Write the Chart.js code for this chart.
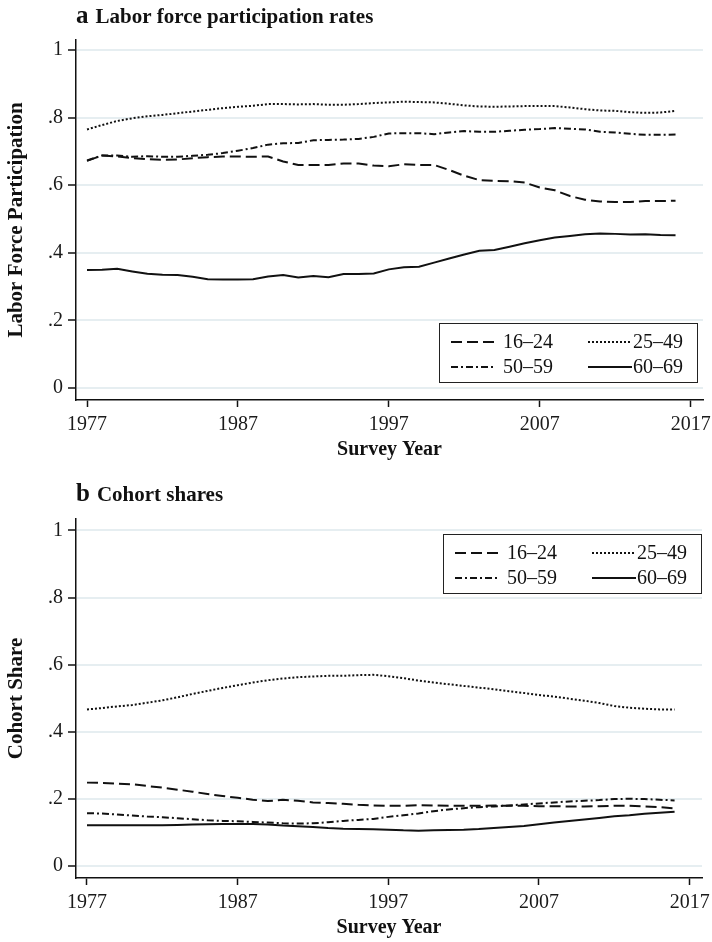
<!DOCTYPE html>
<html>
<head>
<meta charset="utf-8">
<script src="https://cdn.jsdelivr.net/npm/chart.js@4.4.1/dist/chart.umd.min.js"></script>
<style>
  body { margin: 0; background: #fff; width: 712px; height: 942px; position: relative; overflow: hidden; }
  canvas { position: absolute; left: 0; }
</style>
</head>
<body>
<canvas id="chartA" width="712" height="470" style="top:0"></canvas>
<canvas id="chartB" width="712" height="472" style="top:470px"></canvas>
<script>
// Survey years
const years = [1977,1978,1979,1980,1981,1982,1983,1984,1985,1986,1987,1988,1989,1990,1991,1992,1993,1994,1995,1996,
               1997,1998,1999,2000,2001,2002,2003,2004,2005,2006,2007,2008,2009,2010,2011,2012,2013,2014,2015,2016];
const cohorts = ['16–24', '25–49', '50–59', '60–69'];
const xTicks = [1977, 1987, 1997, 2007, 2017];
const yTicks = [0, 0.2, 0.4, 0.6, 0.8, 1];

// a: labor force participation rates
const lfp16_24 = [.672,.688,.685,.680,.677,.675,.676,.680,.683,.685,.685,.684,.685,.670,.660,.660,.660,.664,.664,.658,
                  .656,.662,.660,.660,.645,.628,.615,.613,.612,.608,.593,.585,.568,.557,.552,.550,.550,.553,.553,.554];
const lfp25_49 = [.765,.778,.790,.798,.804,.808,.813,.818,.823,.828,.832,.835,.840,.840,.839,.840,.838,.838,.840,.843,
                  .845,.847,.846,.845,.841,.836,.833,.832,.833,.834,.834,.834,.830,.825,.821,.820,.816,.814,.815,.820];
const lfp50_59 = [.673,.688,.688,.684,.686,.684,.684,.687,.690,.695,.702,.710,.720,.724,.725,.733,.734,.735,.737,.743,
                  .753,.754,.754,.751,.756,.760,.758,.758,.761,.764,.766,.769,.767,.765,.758,.756,.752,.749,.749,.750];
const lfp60_69 = [.349,.350,.353,.345,.338,.335,.334,.329,.322,.321,.321,.322,.330,.334,.327,.331,.328,.337,.337,.339,
                  .351,.357,.359,.371,.383,.395,.406,.408,.418,.428,.437,.445,.450,.455,.457,.456,.454,.455,.453,.452];

// b: cohort shares
const share16_24 = [.249,.248,.246,.244,.239,.234,.228,.222,.215,.209,.204,.198,.194,.198,.195,.190,.188,.186,.183,.181,
                    .180,.180,.182,.181,.180,.180,.180,.181,.180,.180,.179,.179,.178,.178,.179,.180,.180,.178,.176,.172];
const share25_49 = [.467,.471,.476,.480,.487,.494,.503,.513,.522,.531,.539,.547,.554,.559,.563,.565,.567,.567,.569,.570,
                    .566,.560,.553,.547,.542,.537,.532,.527,.521,.516,.510,.505,.499,.493,.486,.477,.472,.469,.467,.467];
const share50_59 = [.158,.157,.154,.151,.148,.146,.143,.140,.137,.135,.134,.132,.130,.128,.127,.128,.131,.135,.138,.141,
                    .147,.152,.157,.164,.169,.173,.176,.178,.181,.184,.187,.190,.193,.195,.197,.200,.201,.200,.198,.196];
const share60_69 = [.122,.122,.122,.122,.122,.122,.123,.124,.125,.126,.126,.126,.124,.121,.119,.117,.114,.112,.111,.110,
                    .109,.107,.106,.107,.108,.109,.111,.114,.117,.120,.125,.130,.135,.139,.144,.149,.152,.156,.159,.162];

const SERIF = '"Liberation Serif", "Times New Roman", serif';
Chart.defaults.font.family = SERIF;
Chart.defaults.color = '#1a1a1a';

const dashes = [[11, 5], [2, 2], [7, 3, 2, 3], []];

function makeDatasets(series) {
  return series.map((vals, i) => ({
    label: cohorts[i],
    data: years.map((yr, j) => ({ x: yr, y: vals[j] })),
    borderColor: '#111',
    borderWidth: 2,
    borderDash: dashes[i],
    pointRadius: 0,
    fill: false,
    tension: 0
  }));
}

// panel heading: bold letter + bold title above the plot
const panelTitle = {
  id: 'panelTitle',
  afterDraw(chart, args, o) {
    const ctx = chart.ctx;
    ctx.save();
    ctx.fillStyle = '#111';
    ctx.textBaseline = 'alphabetic';
    ctx.font = 'bold 25px ' + SERIF;
    ctx.fillText(o.letter, 76, o.y);
    const w = ctx.measureText(o.letter).width;
    ctx.font = 'bold 21px ' + SERIF;
    ctx.fillText(o.text, 76 + w + 7, o.y);
    ctx.restore();
  }
};

// boxed two-column legend inside the plot region
const boxLegend = {
  id: 'boxLegend',
  afterDraw(chart, args, o) {
    const ctx = chart.ctx, area = chart.chartArea;
    const w = 258, h = 59;
    const x = area.right - o.right - w;
    const y = o.top != null ? area.top + o.top : area.bottom - o.bottom - h;
    ctx.save();
    ctx.fillStyle = '#fff';
    ctx.fillRect(x, y, w, h);
    ctx.strokeStyle = '#222';
    ctx.lineWidth = 1;
    ctx.strokeRect(Math.round(x) + 0.5, Math.round(y) + 0.5, w, h);
    ctx.font = '20px ' + SERIF;
    ctx.textBaseline = 'middle';
    chart.data.datasets.forEach((ds, i) => {
      const col = i % 2, row = Math.floor(i / 2);
      const cy = y + 19 + row * 25;
      const sx = x + (col ? 149 : 12);
      ctx.beginPath();
      ctx.setLineDash(ds.borderDash);
      ctx.lineWidth = ds.borderWidth;
      ctx.strokeStyle = ds.borderColor;
      ctx.moveTo(sx, cy);
      ctx.lineTo(sx + 44, cy);
      ctx.stroke();
      ctx.setLineDash([]);
      ctx.fillStyle = '#111';
      ctx.fillText(ds.label, sx + (col ? 45 : 52), cy + 1);
    });
    ctx.restore();
  }
};

function makeChart(id, series, yTitle, pad, yMin, yMax, title, legend) {
  return new Chart(document.getElementById(id), {
    type: 'line',
    data: { datasets: makeDatasets(series) },
    plugins: [panelTitle, boxLegend],
    options: {
      responsive: false,
      animation: false,
      layout: { padding: pad },
      scales: {
        x: {
          type: 'linear',
          min: 1976.27,
          max: 2017.82,
          afterBuildTicks: s => { s.ticks = xTicks.map(v => ({ value: v })); },
          // fixed height, and let the end labels hang over without shrinking the plot
          afterFit: s => { s.height = 62; s.paddingLeft = 0; s.paddingRight = 0; },
          ticks: { font: { size: 20 }, padding: 6, maxRotation: 0, callback: v => String(v) },
          grid: { drawOnChartArea: false, drawTicks: true, tickLength: 7, tickColor: '#111', tickWidth: 1.5 },
          border: { display: true, color: '#111', width: 1.5 },
          title: { display: true, text: 'Survey Year', font: { size: 20, weight: 'bold' }, color: '#111', padding: 0 }
        },
        y: {
          min: yMin,
          max: yMax,
          afterBuildTicks: s => { s.ticks = yTicks.map(v => ({ value: v })); },
          afterFit: s => { s.width = 76; s.paddingTop = 0; s.paddingBottom = 0; },
          ticks: {
            font: { size: 20 }, padding: 5,
            callback: v => (v === 0 ? '0' : v === 1 ? '1' : String(Math.round(v * 10) / 10).replace(/^0/, ''))
          },
          grid: { color: '#e6eef1', lineWidth: 2, tickLength: 8, tickColor: '#111', tickWidth: 1.5 },
          border: { display: true, color: '#111', width: 1.5 },
          title: { display: true, text: yTitle, font: { size: 21, weight: 'bold' }, color: '#111', padding: { top: 4, bottom: 0 } }
        }
      },
      plugins: {
        legend: { display: false },
        tooltip: { enabled: false },
        panelTitle: title,
        boxLegend: legend
      }
    }
  });
}

makeChart('chartA', [lfp16_24, lfp25_49, lfp50_59, lfp60_69], 'Labor Force Participation',
  { left: 0, top: 40, right: 9, bottom: 8 }, -0.0355, 1.0296,
  { letter: 'a', text: 'Labor force participation rates', y: 23 },
  { right: 6, bottom: 18 });

makeChart('chartB', [share16_24, share25_49, share50_59, share60_69], 'Cohort Share',
  { left: 0, top: 49, right: 10, bottom: 2 }, -0.035, 1.034,
  { letter: 'b', text: 'Cohort shares', y: 31 },
  { right: 1, top: 15 });
</script>
</body>
</html>
